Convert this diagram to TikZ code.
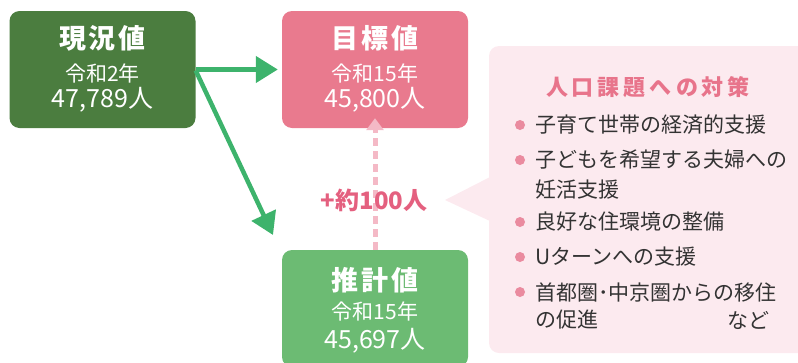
\documentclass[tikz,border=0pt]{standalone}
\usepackage{fontspec}
\setmainfont{Noto Sans CJK JP}
\usetikzlibrary{arrows.meta}
\definecolor{darkgreen}{HTML}{4B7D3F}
\definecolor{goalpink}{HTML}{E97A8E}
\definecolor{estgreen}{HTML}{6CBB73}
\definecolor{arrowgreen}{HTML}{3DB36C}
\definecolor{dashpink}{HTML}{F4B9C6}
\definecolor{gainpink}{HTML}{E4607F}
\definecolor{callbg}{HTML}{FCEAEF}
\definecolor{calltitle}{HTML}{E8748B}
\definecolor{bulpink}{HTML}{EA8B9F}
\definecolor{bodytext}{HTML}{333333}
\begin{document}
\begin{tikzpicture}[x=1pt,y=-1pt,
  box/.style={rounded corners=10pt, minimum width=186pt, minimum height=117pt, inner sep=0pt},
  ttl/.style={text=white, inner sep=0pt, font=\bfseries\fontsize{27}{27}\selectfont},
  sub/.style={text=white, inner sep=0pt, font=\fontsize{21}{21}\selectfont},
  num/.style={text=white, inner sep=0pt, font=\fontsize{25}{25}\selectfont},
  garrow/.style={draw=arrowgreen, line width=4.5pt, -{Triangle[length=22pt,width=26pt]}},
  parrow/.style={draw=dashpink, line width=5pt, dash pattern=on 8pt off 5pt, -{Triangle[length=12pt,width=17pt]}},
  bul/.style={circle, fill=bulpink, inner sep=0pt, minimum size=10pt},
  item/.style={anchor=west, inner sep=0pt, text=bodytext, font=\fontsize{21}{21}\selectfont}
]
\clip (0,0) rectangle (798,362);
% boxes
\node[box, fill=darkgreen] (now) at (102.5,69.5) {};
\node[box, fill=goalpink] (goal) at (375,69.5) {};
\node[box, fill=estgreen] (est) at (375,308.5) {};
% box texts
\node[ttl] (nowT) at (102.5,38) {現\hspace{3pt}況\hspace{3pt}値};
\node[sub] (nowS) at (102.5,73) {令和2年};
\node[num] (nowN) at (102.5,100) {47,789人};
\node[ttl] (goalT) at (375,38) {目\hspace{3pt}標\hspace{3pt}値};
\node[sub] (goalS) at (375,73) {令和15年};
\node[num] (goalN) at (375,100) {45,800人};
\node[ttl] (estT) at (375,280) {推\hspace{3pt}計\hspace{3pt}値};
\node[sub] (estS) at (375,311) {令和15年};
\node[num] (estN) at (375,341) {45,697人};
% arrows
\coordinate (dtip) at (273,235);
\draw[garrow] (now.east) -- ([xshift=-4pt]goal.west);
\draw[garrow] ([yshift=-1pt]now.east) -- (dtip);
\draw[parrow] (est.north) -- ([yshift=10pt]goal.south);
\node[inner sep=0pt, text=gainpink, font=\bfseries\fontsize{24}{24}\selectfont] (gain) at (374,200) {+約100人};
% callout
\node[fill=callbg, rounded corners=10pt, minimum width=330pt, minimum height=307pt, inner sep=0pt] (call) at (654,199.5) {};
\coordinate (ptip) at (445,200);
\fill[callbg] (ptip) -- (492,176) -- (492,222) -- cycle;
\node[inner sep=0pt, text=calltitle, font=\bfseries\fontsize{22}{22}\selectfont] (ctitle) at (648,87)
  {人\hspace{4pt}口\hspace{4pt}課\hspace{4pt}題\hspace{4pt}へ\hspace{4pt}の\hspace{4pt}対\hspace{4pt}策};
\node[bul] (b1) at (520,125) {};
\node[bul] (b2) at (520,160) {};
\node[bul] (b3) at (520,222) {};
\node[bul] (b4) at (520,257) {};
\node[bul] (b5) at (520,292) {};
\node[item] (t1) at (535,125) {子育て世帯の経済的支援};
\node[item] (t2) at (535,160) {子どもを希望する夫婦への};
\node[item] (t2b) at (535,190) {妊活支援};
\node[item] (t3) at (535,222) {良好な住環境の整備};
\node[item] (t4) at (535,257) {Uターンへの支援};
\node[item] (t5) at (535,292) {首都圏･中京圏からの移住};
\node[item] (t5b) at (535,320) {の促進};
\node[item] (t5c) at (727,320) {など};
\end{tikzpicture}
\end{document}
